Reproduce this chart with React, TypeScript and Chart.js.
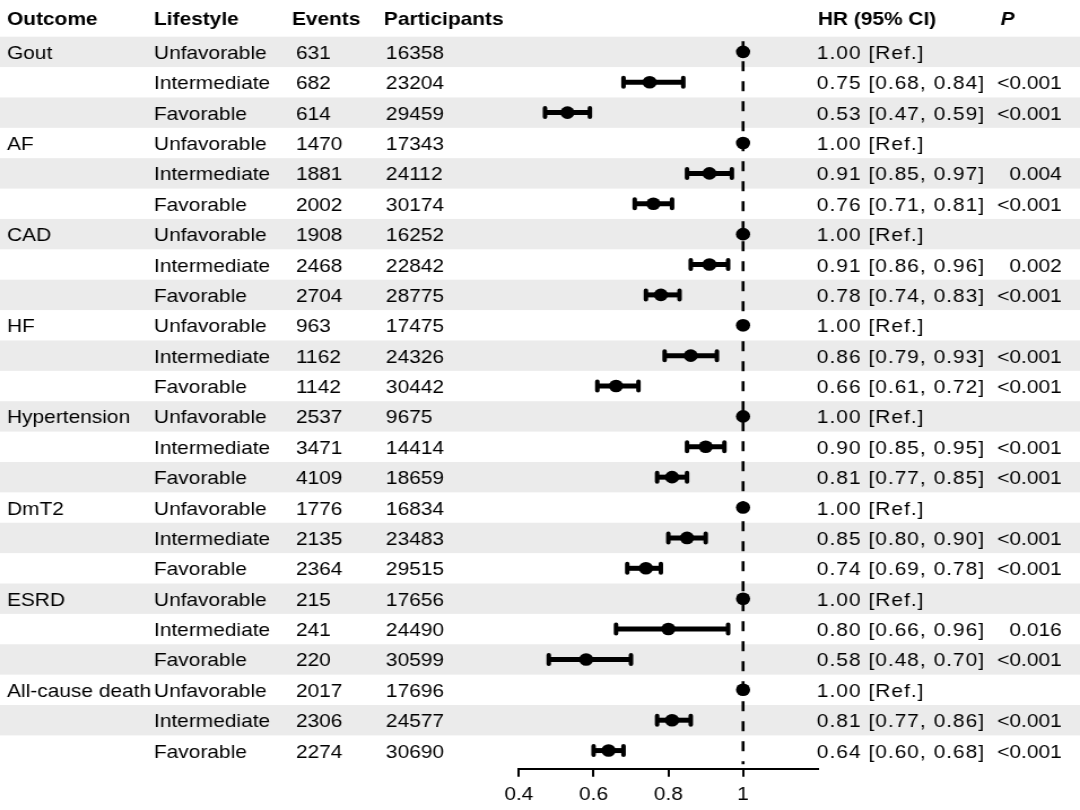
import React, { useEffect, useRef } from "react";
import { Chart, registerables } from "chart.js";

Chart.register(...registerables);

// ---------- data ----------
const OUTCOMES = ["Gout", "AF", "CAD", "HF", "Hypertension", "DmT2", "ESRD", "All-cause death"];
const LIFESTYLES = ["Unfavorable", "Intermediate", "Favorable"];
const EVENTS = [631, 682, 614, 1470, 1881, 2002, 1908, 2468, 2704, 963, 1162, 1142, 2537, 3471, 4109, 1776, 2135, 2364, 215, 241, 220, 2017, 2306, 2274];
const PARTICIPANTS = [16358, 23204, 29459, 17343, 24112, 30174, 16252, 22842, 28775, 17475, 24326, 30442, 9675, 14414, 18659, 16834, 23483, 29515, 17656, 24490, 30599, 17696, 24577, 30690];
const HR = [1.0, 0.75, 0.53, 1.0, 0.91, 0.76, 1.0, 0.91, 0.78, 1.0, 0.86, 0.66, 1.0, 0.9, 0.81, 1.0, 0.85, 0.74, 1.0, 0.8, 0.58, 1.0, 0.81, 0.64];
const LOWER = [null, 0.68, 0.47, null, 0.85, 0.71, null, 0.86, 0.74, null, 0.79, 0.61, null, 0.85, 0.77, null, 0.8, 0.69, null, 0.66, 0.48, null, 0.77, 0.6];
const UPPER = [null, 0.84, 0.59, null, 0.97, 0.81, null, 0.96, 0.83, null, 0.93, 0.72, null, 0.95, 0.85, null, 0.9, 0.78, null, 0.96, 0.7, null, 0.86, 0.68];
const PVALUES = ["", "<0.001", "<0.001", "", "0.004", "<0.001", "", "0.002", "<0.001", "", "<0.001", "<0.001", "", "<0.001", "<0.001", "", "<0.001", "<0.001", "", "0.016", "<0.001", "", "<0.001", "<0.001"];
const HEADERS = ["Outcome", "Lifestyle", "Events", "Participants", "HR (95% CI)", "P"];
const X_TICKS = [0.4, 0.6, 0.8, 1];
const X_MIN = 0.4;
const X_MAX = 1.2;
const REF_VALUE = 1;

// ---------- layout ----------
const OUT_W = 1080;
const OUT_H = 810;
const SX = 1.13;
const W = Math.round(OUT_W / SX);
const H = 813;
const FONT = '"Liberation Sans", Arial, Helvetica, sans-serif';
const FS = 18.5;
const px = (v: number) => v / SX;

const COL = {
  outcome: px(7),
  lifestyle: px(154),
  eventsHead: px(292),
  events: px(296),
  partHead: px(384),
  part: px(386),
  hrHead: px(818),
  hr: px(817),
  pHead: px(1001),
  pRight: px(1062),
};

const fmt = (v: number) => v.toFixed(2);

export default function App() {
  const ref = useRef<HTMLCanvasElement>(null);

  useEffect(() => {
    if (!ref.current) return;
    const n = HR.length;

    const forestPlugin = {
      id: "forest",
      beforeDraw(chart: any) {
        const { ctx, scales } = chart;
        const y = scales.y;
        ctx.save();
        ctx.fillStyle = "#ebebeb";
        for (let i = 0; i < n; i += 2) {
          const t = y.getPixelForValue(i - 0.5);
          const b = y.getPixelForValue(i + 0.5);
          ctx.fillRect(0, t, chart.width, b - t);
        }
        ctx.restore();
      },
      beforeDatasetsDraw(chart: any) {
        const { ctx, scales } = chart;
        const x = scales.x;
        const y = scales.y;
        ctx.save();
        // reference dashed line
        const rx = x.getPixelForValue(REF_VALUE);
        ctx.strokeStyle = "#000";
        ctx.lineWidth = 2.6;
        ctx.setLineDash([10, 10]);
        ctx.beginPath();
        ctx.moveTo(rx, y.getPixelForValue(-0.35));
        ctx.lineTo(rx, y.getPixelForValue(n - 0.55));
        ctx.stroke();
        ctx.setLineDash([]);
        // confidence intervals
        for (let i = 0; i < n; i++) {
          const lo = LOWER[i];
          const hi = UPPER[i];
          if (lo == null || hi == null) continue;
          const cy = y.getPixelForValue(i);
          const x1 = x.getPixelForValue(lo);
          const x2 = x.getPixelForValue(hi);
          ctx.lineWidth = 5;
          ctx.lineCap = "butt";
          ctx.beginPath();
          ctx.moveTo(x1, cy);
          ctx.lineTo(x2, cy);
          ctx.stroke();
          ctx.lineWidth = 4;
          ctx.lineCap = "round";
          ctx.beginPath();
          ctx.moveTo(x1, cy - 4.5);
          ctx.lineTo(x1, cy + 4.5);
          ctx.moveTo(x2, cy - 4.5);
          ctx.lineTo(x2, cy + 4.5);
          ctx.stroke();
        }
        ctx.restore();
      },
      afterDraw(chart: any) {
        const { ctx, scales } = chart;
        const y = scales.y;
        ctx.save();
        ctx.fillStyle = "#000";
        ctx.textBaseline = "alphabetic";
        // header
        const hy = y.getPixelForValue(-1.15) + 8;
        ctx.font = `bold ${FS}px ${FONT}`;
        ctx.textAlign = "left";
        ctx.fillText(HEADERS[0], COL.outcome, hy);
        ctx.fillText(HEADERS[1], COL.lifestyle, hy);
        ctx.fillText(HEADERS[2], COL.eventsHead, hy);
        ctx.fillText(HEADERS[3], COL.partHead, hy);
        ctx.fillText(HEADERS[4], COL.hrHead, hy);
        ctx.font = `italic bold ${FS}px ${FONT}`;
        ctx.fillText(HEADERS[5], COL.pHead, hy);
        // rows
        ctx.font = `${FS}px ${FONT}`;
        for (let i = 0; i < n; i++) {
          const by = y.getPixelForValue(i) + 7;
          ctx.textAlign = "left";
          if (i % 3 === 0) ctx.fillText(OUTCOMES[i / 3], COL.outcome, by);
          ctx.fillText(LIFESTYLES[i % 3], COL.lifestyle, by);
          ctx.fillText(String(EVENTS[i]), COL.events, by);
          ctx.fillText(String(PARTICIPANTS[i]), COL.part, by);
          const lo = LOWER[i];
          const hi = UPPER[i];
          const hrText = lo == null || hi == null ? `${fmt(HR[i])} [Ref.]` : `${fmt(HR[i])} [${fmt(lo)}, ${fmt(hi)}]`;
          (ctx as any).letterSpacing = "0.9px";
          ctx.fillText(hrText, COL.hr, by);
          (ctx as any).letterSpacing = "0px";
          ctx.textAlign = "right";
          if (PVALUES[i]) ctx.fillText(PVALUES[i], COL.pRight, by);
        }
        ctx.restore();
      },
    };

    const chart = new Chart(ref.current, {
      type: "scatter",
      data: {
        datasets: [
          {
            data: HR.map((v, i) => ({ x: v, y: i })),
            pointRadius: 6.3,
            pointHoverRadius: 6.3,
            backgroundColor: "#000",
            borderWidth: 0,
            pointStyle: "circle",
          },
        ],
      },
      options: {
        responsive: true,
        maintainAspectRatio: false,
        animation: false,
        events: [],
        layout: {
          padding: { left: px(519), right: W - px(818), top: 4.7, bottom: 0 },
        },
        plugins: { legend: { display: false }, tooltip: { enabled: false } },
        scales: {
          x: {
            type: "linear",
            min: X_MIN,
            max: X_MAX,
            afterBuildTicks: (s: any) => {
              s.ticks = X_TICKS.map((v) => ({ value: v }));
            },
            ticks: {
              color: "#000",
              font: { family: FONT, size: FS },
              padding: 7,
              maxRotation: 0,
              autoSkip: false,
              callback: (v: any) => String(v),
            },
            grid: {
              display: true,
              drawOnChartArea: false,
              drawTicks: true,
              tickLength: 8,
              color: "#000",
              lineWidth: 2,
            },
            border: { display: true, color: "#000", width: 2 },
          },
          y: {
            type: "linear",
            display: false,
            reverse: true,
            min: -1.5,
            max: 23.6,
          },
        },
      },
      plugins: [forestPlugin],
    });
    return () => chart.destroy();
  }, []);

  return (
    <div
      style={{
        position: "fixed",
        left: 0,
        top: 0,
        width: OUT_W,
        height: OUT_H,
        background: "#fff",
        overflow: "hidden",
      }}
    >
      <div
        style={{
          position: "absolute",
          left: 0,
          top: 0,
          width: W,
          height: H,
          transform: `scaleX(${OUT_W / W})`,
          transformOrigin: "0 0",
        }}
      >
        <canvas ref={ref} />
      </div>
    </div>
  );
}
